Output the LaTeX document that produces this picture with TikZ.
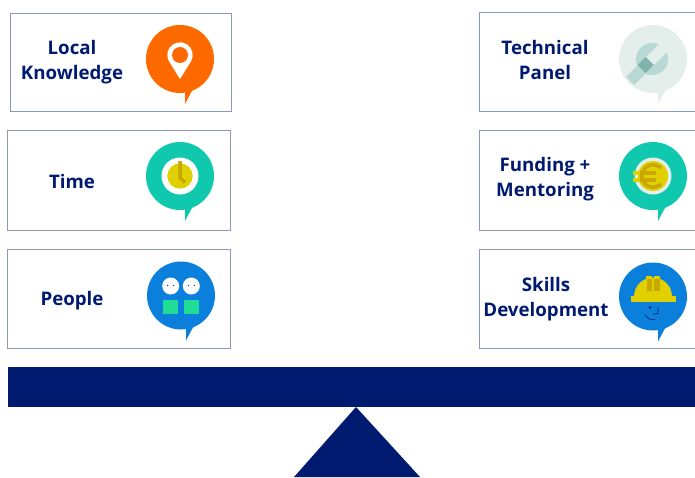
\documentclass[tikz,border=0pt]{standalone}
\usepackage{fontspec}
\setmainfont{Open Sans}
\usetikzlibrary{positioning}
\definecolor{navy}{HTML}{001A70}
\definecolor{edgeblue}{HTML}{8C96BE}
\definecolor{pinorange}{HTML}{FF6A00}
\definecolor{teal}{HTML}{0FC8AE}
\definecolor{skyblue}{HTML}{0A7FDB}
\definecolor{pale}{HTML}{E4EEEB}
\definecolor{palemid}{HTML}{B8D8D3}
\definecolor{paledark}{HTML}{80B3AC}
\definecolor{gold}{HTML}{E0D000}
\definecolor{darkgold}{HTML}{C8A800}
\definecolor{mint}{HTML}{20DC96}
\begin{document}
\begin{tikzpicture}[x=1pt,y=-1pt,node distance=118pt,
    box/.style={draw=edgeblue,semithick,minimum width=223pt,minimum height=99pt,inner sep=0pt,outer sep=0pt},
    caption/.style={text=navy,font=\bfseries\fontsize{18.7}{25}\selectfont,align=center},
    bubble/.style={circle,minimum size=68pt,inner sep=0pt,outer sep=0pt}]
            \useasboundingbox (0,0) rectangle (695,477);

            \node   [box,minimum width=221pt,minimum height=98pt] at (120.5,62)   (box1) {};
            \node   [box,xshift=-1.5pt,minimum height=100pt]  [below of=box1]     (box2) {};
            \node   [box,xshift=-1.5pt,yshift=-.4pt]          [below of=box1,node distance=236pt] (box3) {};
            \node   [box,minimum width=221pt]  [right of=box1,node distance=469pt]  (box4) {};
            \node   [box,minimum width=221pt,minimum height=100pt]  [below of=box4] (box5) {};
            \node   [box,minimum width=221pt,yshift=-.4pt]    [below of=box4,node distance=236pt] (box6) {};

            \node   [caption,yshift=-.5pt]  [left of=box1,node distance=48.5pt]   (text1) {Local\\Knowledge};
            \node   [caption,yshift=-1pt]   [left of=box2,node distance=47pt]     (text2) {Time};
            \node   [caption,yshift=-2.1pt] [left of=box3,node distance=47pt]     (text3) {People};
            \node   [caption,yshift=2pt]    [left of=box4,node distance=44.5pt]   (text4) {Technical\\Panel};
            \node   [caption,yshift=.5pt]   [left of=box5,node distance=44.5pt]   (text5) {Funding +\\Mentoring};
            \node   [caption,yshift=-1.1pt] [left of=box6,node distance=43.5pt]   (text6) {Skills\\Development};

            \node   [bubble,fill=pinorange,yshift=3pt]  [right of=box1,node distance=59.5pt]  (pin) {};
            \node   [bubble,fill=teal,yshift=4pt]       [right of=box2,node distance=61pt]    (clock) {};
            \node   [bubble,fill=skyblue,yshift=2.9pt]  [right of=box3,node distance=62pt]    (people) {};
            \node   [bubble,fill=pale,yshift=3pt]       [right of=box4,node distance=63.5pt]  (wrench) {};
            \node   [bubble,fill=teal,yshift=4pt]       [right of=box5,node distance=63.5pt]  (coin) {};
            \node   [bubble,fill=skyblue,yshift=1.9pt]  [right of=box6,node distance=63.5pt]  (helmet) {};

            % speech tails
            \foreach \bub/\col in {pin/pinorange,clock/teal,people/skyblue,wrench/pale,coin/teal,helmet/skyblue}
                \fill[\col,shift={(\bub)}] (5,31) -- (5,45) -- (13,30) -- cycle;

            % location pin
            \begin{scope}[shift={(pin)}]
                \fill[white] (0,20) -- (10.8,2.7) arc[start angle=32,end angle=-212,radius=12.7] -- cycle;
                \fill[pinorange] (0,-4) circle (8);
            \end{scope}

            % clock
            \begin{scope}[shift={(clock)}]
                \fill[white] (0,0) circle (18.5);
                \fill[gold] (0,0) circle (12.7);
                \draw[darkgold,line width=3.5pt] (0,-15) -- (0,2) -- (5,6.5);
            \end{scope}

            % two faces
            \begin{scope}[shift={(people)}]
                \foreach \side in {-10.3,10.3} {
                    \fill[white] (\side,-9.5) circle (8.5);
                    \fill[navy] (\side-3,-10) circle (.7);
                    \fill[navy] (\side+3,-10) circle (.7);
                    \fill[mint] (\side-7.5,4.5) rectangle (\side+7.5,18);
                }
            \end{scope}

            % wrench
            \begin{scope}[shift={(wrench)}]
                \fill[palemid] (-1,0) circle (16);
                \fill[pale] (-7,-2) -- (13,-22) -- (21,-14) -- (1,6) -- cycle;
                \fill[palemid] (-15,6) -- (-7,14) -- (-19,26) -- (-27,18) -- cycle;
                \fill[paledark] (-7.3,-2) -- (.7,6) -- (-7.3,14) -- (-15.3,6) -- cycle;
            \end{scope}

            % euro coin
            \begin{scope}[shift={(coin)}]
                \fill[pale] (0,0) circle (18.5);
                \fill[gold] (0,0) circle (15);
                \draw[darkgold,line width=3.5pt] (8,-8) arc[start angle=-45,end angle=-315,radius=11.3];
                \fill[gold] (-20,-5.5) rectangle (3,-1.5);
                \fill[gold] (-20,2) rectangle (3,6);
                \fill[darkgold] (-13,-5.5) rectangle (3,-1.5);
                \fill[darkgold] (-13,2) rectangle (3,6);
            \end{scope}

            % hard hat and face
            \begin{scope}[shift={(helmet)}]
                \fill[gold] (-19,0) arc[start angle=180,end angle=360,radius=19] -- cycle;
                \fill[gold] (-22,-.5) rectangle (23,5.5);
                \fill[gold] (-7,-21) rectangle (-1,-5);
                \fill[gold] (1,-21) rectangle (7,-5);
                \fill[darkgold] (-6.5,-17.5) rectangle (-1.5,-6);
                \fill[darkgold] (1,-17.5) rectangle (6.5,-6);
                \fill[navy] (-3,11) circle (1.3);
                \draw[navy,semithick] (5,10.5) -- (5,17) -- (0,17.5);
                \draw[navy,semithick] (-8,18) .. controls (-6,22) and (-2,24) .. (2,23);
            \end{scope}

            \fill[navy] (8,367) rectangle (700,407);
            \coordinate (apex) at (356,407);
            \coordinate (baseleft) at (294,477);
            \coordinate (baseright) at (420,477);
            \fill[navy] (apex) -- (baseright) -- (baseleft) -- cycle;
        \end{tikzpicture}
\end{document}
